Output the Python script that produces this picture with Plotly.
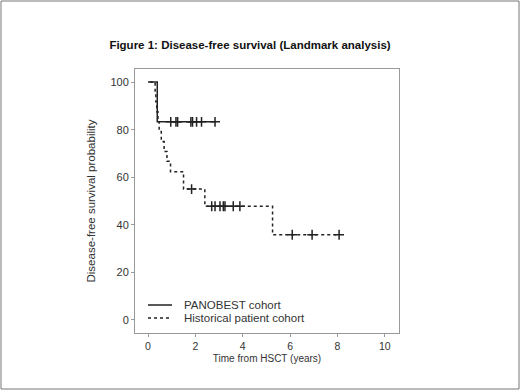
import plotly.graph_objects as go

# PANOBEST cohort (Kaplan-Meier steps)
pano_t = [0.0, 0.08, 0.39, 0.39, 2.83]
pano_s = [100, 100, 100, 83.3, 83.3]
pano_cens_t = [0.96, 1.18, 1.25, 1.81, 1.88, 2.05, 2.26, 2.83]
pano_cens_s = [83.3, 83.3, 83.3, 83.3, 83.3, 83.3, 83.3, 83.3]

# Historical patient cohort
hist_t = [0.08, 0.30, 0.33, 0.37, 0.42, 0.47, 0.56, 0.68, 0.80, 0.95, 1.50, 2.40, 5.26, 8.07]
hist_s = [100, 95.8, 91.7, 87.5, 83.3, 79.2, 75.0, 70.8, 66.7, 62.3, 55.0, 47.8, 35.8, 35.8]
hist_cens_t = [1.84, 2.69, 2.83, 3.04, 3.18, 3.25, 3.60, 3.88, 6.09, 6.93, 8.07]
hist_cens_s = [55.0, 47.8, 47.8, 47.8, 47.8, 47.8, 47.8, 47.8, 35.8, 35.8, 35.8]

x_ticks = [0, 2, 4, 6, 8, 10]
y_ticks = [0, 20, 40, 60, 80, 100]

legend_labels = ["PANOBEST cohort", "Historical patient cohort"]
title_text = "Figure 1: Disease-free survival (Landmark analysis)"
x_title = "Time from HSCT (years)"
y_title = "Disease-free survival probability"

INK = "#222"

fig = go.Figure()
fig.add_trace(go.Scatter(x=pano_t, y=pano_s, mode="lines", line_shape="hv",
                         line=dict(color=INK, width=1.5), name=legend_labels[0], showlegend=False))
fig.add_trace(go.Scatter(x=hist_t, y=hist_s, mode="lines", line_shape="hv",
                         line=dict(color=INK, width=1.5, dash="3px,3px"),
                         name=legend_labels[1], showlegend=False))
fig.add_trace(go.Scatter(x=pano_cens_t, y=pano_cens_s, mode="markers", showlegend=False,
                         marker=dict(symbol="cross-thin", size=7, line=dict(color=INK, width=1.5))))
fig.add_trace(go.Scatter(x=hist_cens_t, y=hist_cens_s, mode="markers", showlegend=False,
                         marker=dict(symbol="cross-thin", size=7, line=dict(color=INK, width=1.5))))

L, R, T, B = 135, 399, 69, 333
W, H = 520, 390
pw, ph = R - L, B - T

def px(x):
    return (x - L) / pw

def py(y):
    return (B - y) / ph

# outer picture border
fig.add_shape(type="rect", xref="paper", yref="paper",
              x0=px(1), x1=px(519), y0=py(389), y1=py(1),
              line=dict(color="#777", width=1), fillcolor="rgba(0,0,0,0)", layer="below")

# legend drawn with shapes + annotations (tight row spacing like the original)
legend_rows = [(305, "solid"), (318, "3px,3px")]
for (ypix, dash), label in zip(legend_rows, legend_labels):
    fig.add_shape(type="line", xref="paper", yref="paper",
                  x0=px(148), x1=px(172), y0=py(ypix), y1=py(ypix),
                  line=dict(color=INK, width=1.5, dash=dash))
    fig.add_annotation(xref="paper", yref="paper", x=px(182), y=py(ypix),
                       text=label, showarrow=False, xanchor="left", yanchor="middle",
                       font=dict(size=11.5, color="#333"))

fig.update_layout(
    width=W, height=H,
    margin=dict(l=L, r=W - R, t=T, b=H - B),
    paper_bgcolor="white", plot_bgcolor="white",
    font=dict(family="Liberation Sans, Arial, sans-serif", color="#333", size=11),
    title=dict(text="<b>" + title_text + "</b>", x=px(250), xref="paper", xanchor="center",
               y=1 - 45 / H, yanchor="middle", font=dict(size=11.5, color="#111")),
    showlegend=False,
    xaxis=dict(range=[-0.55, 10.6], tickvals=x_ticks, showgrid=False, zeroline=False,
               showline=True, linecolor="#999", linewidth=1, mirror=True,
               ticks="outside", ticklen=3, tickcolor="#999",
               tickfont=dict(size=10.5, color="#333"),
               title=dict(text=x_title, font=dict(size=10, color="#333"), standoff=4)),
    yaxis=dict(range=[-5.5, 105.5], tickvals=y_ticks, showgrid=False, zeroline=False,
               showline=True, linecolor="#999", linewidth=1, mirror=True,
               ticks="outside", ticklen=3, tickcolor="#999",
               tickfont=dict(size=11, color="#333"),
               title=dict(text=y_title, font=dict(size=11.5, color="#333"), standoff=12)),
)

fig.write_html("out.html", config={"displayModeBar": False},
               post_script="document.body.style.margin='0';")
